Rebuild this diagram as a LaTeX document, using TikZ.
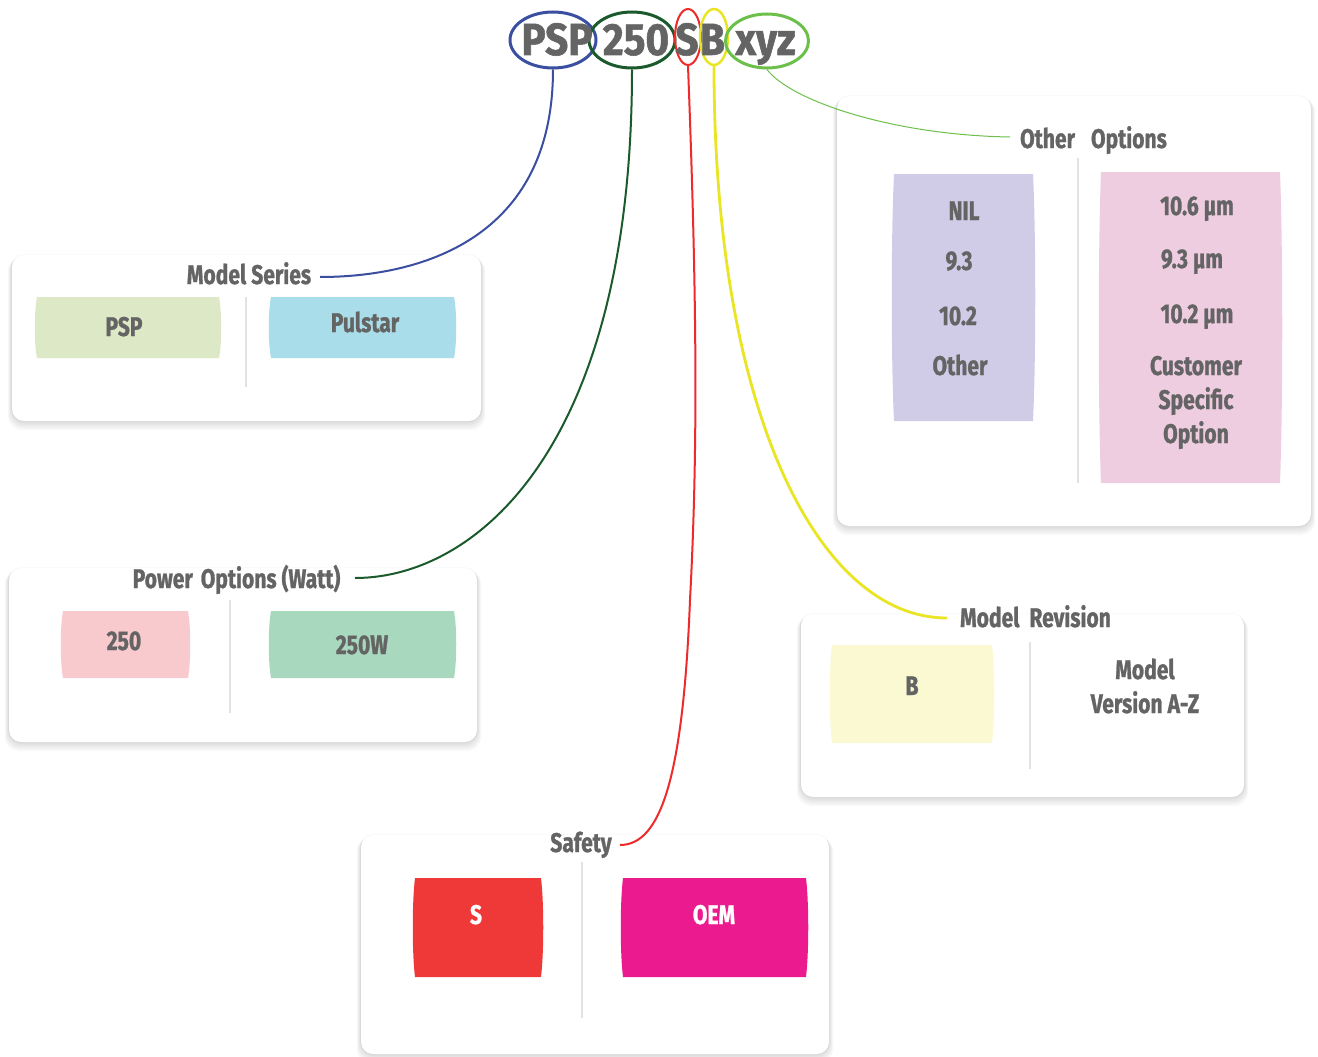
\documentclass[tikz,border=0pt]{standalone}
\usepackage{fontspec}
\setmainfont{Fira Sans}
\newfontfamily\condf[FakeStretch=0.78, BoldFeatures={FakeBold=1}]{Fira Sans}
\newfontfamily\titlef[FakeStretch=0.9, BoldFeatures={FakeBold=1.2}]{Fira Sans}
\usetikzlibrary{shapes.geometric}
\definecolor{txt}{HTML}{646464}
\definecolor{cblue}{HTML}{3A4FA0}
\definecolor{cdgreen}{HTML}{1A5A2C}
\definecolor{cred}{HTML}{EE2A2A}
\definecolor{cyellow}{HTML}{EAE524}
\definecolor{clgreen}{HTML}{6CC04A}
\definecolor{pPSP}{HTML}{DDE9C6}
\definecolor{pPul}{HTML}{A9DDE9}
\definecolor{p250}{HTML}{F8CACD}
\definecolor{p250W}{HTML}{A8D8BD}
\definecolor{pNIL}{HTML}{D0CCE7}
\definecolor{pPink}{HTML}{EFCDE1}
\definecolor{pB}{HTML}{FBF9D2}
\definecolor{pS}{HTML}{EF3838}
\definecolor{pOEM}{HTML}{EC1A8F}
\definecolor{divc}{HTML}{E2E2E2}
\newcommand\pill[5]{%
  \fill[#5] (#1,#2) -- (#3,#2)
    .. controls ({#3+3},{#2+0.25*(#4-#2)}) and ({#3+3},{#4-0.25*(#4-#2)}) .. (#3,#4)
    -- (#1,#4)
    .. controls ({#1-3},{#4-0.25*(#4-#2)}) and ({#1-3},{#2+0.25*(#4-#2)}) .. cycle;}
\newcommand\card[5]{%
  \foreach \k in {1,...,7}{
    \fill[black, opacity=0.02, rounded corners=14pt]
      ({#2-\k*0.6},{#3+\k*0.3}) rectangle ({#4+\k*0.6},{#5+\k*1.3});}
  \fill[black, opacity=0.03, rounded corners=12pt] ({#2-0.6},{#3-0.6}) rectangle ({#4+0.6},{#5+0.6});
  \node[cardbox, minimum width={#4-#2}, minimum height={#5-#3}] (#1)
    at ({(#2+#4)/2},{(#3+#5)/2}) {};}
\begin{document}
\begin{tikzpicture}[x=1pt,y=-1pt,
  lbl/.style={font=\condf\bfseries\fontsize{27}{32}\selectfont, text=txt, inner sep=1pt, anchor=base},
  wlbl/.style={lbl, text=white},
  ttl/.style={font=\titlef\bfseries\fontsize{45}{50}\selectfont, text=txt, inner sep=0pt, anchor=base},
  cardbox/.style={fill=white, rounded corners=12pt, inner sep=0pt},
  ell/.style={ellipse, draw, inner sep=0pt},
  divider/.style={draw=divc, line width=2pt},
  conn/.style={line width=2pt},
]
\useasboundingbox (0,0) rectangle (1318,1057);
\fill[white] (0,0) rectangle (1318,1057);

% cards
\card{msc}{12}{255}{481}{421}
\card{poc}{9}{568}{477}{742}
\card{ooc}{837}{96}{1311}{526}
\card{mrc}{801}{614}{1244}{797}
\card{sfc}{361}{835}{829}{1054}

% Model Series
\node[lbl] (msl) at (249,284) {Model Series};
\pill{37}{297}{219}{358}{pPSP}
\pill{271}{297}{454}{358}{pPul}
\draw[divider] (246,297) -- (246,387);
\node[lbl] (ms1) at (124,336) {PSP};
\node[lbl] (ms2) at (365,332) {Pulstar};

% Power Options
\node[lbl] (pol) at (236.5,588) {Power\hspace{3pt} Options (Watt)};
\pill{63}{611}{188}{678}{p250}
\pill{271}{611}{454}{678}{p250W}
\draw[divider] (230,600) -- (230,713);
\node[lbl] (po1) at (124,650) {250};
\node[lbl] (po2) at (362,654) {250W};

% Other Options
\node[lbl] (ool) at (1093.5,148) {Other\hspace{16pt}Options};
\pill{894}{174}{1033}{421}{pNIL}
\pill{1101}{172}{1280}{483}{pPink}
\draw[divider] (1078,158) -- (1078,483);
\node[lbl] (oa1) at (964,220) {NIL};
\node[lbl] (oa2) at (959,270) {9.3};
\node[lbl] (oa3) at (958,325) {10.2};
\node[lbl] (oa4) at (960,375) {Other};
\node[lbl] (ob1) at (1197,215) {10.6 µm};
\node[lbl] (ob2) at (1192,268) {9.3 µm};
\node[lbl] (ob3) at (1197,323) {10.2 µm};
\node[lbl] (ob4) at (1196,375) {Customer};
\node[lbl] (ob5) at (1196,409) {Specific};
\node[lbl] (ob6) at (1196,443) {Option};

% Model Revision
\node[lbl] (mrl) at (1035.5,627) {Model\hspace{10pt}Revision};
\pill{832}{645}{992}{743}{pB}
\draw[divider] (1030,642) -- (1030,769);
\node[lbl] (mr1) at (912,695) {B};
\node[lbl] (mr2) at (1145,679) {Model};
\node[lbl] (mr3) at (1145,713) {Version A-Z};

% Safety
\node[lbl] (sfl) at (581,852) {Safety};
\pill{415}{878}{541}{977}{pS}
\pill{623}{878}{806}{977}{pOEM}
\draw[divider] (582,862) -- (582,1018);
\node[wlbl] (sf1) at (476,924) {S};
\node[wlbl] (sf2) at (714,924) {OEM};

% title ellipses
\node[ell, draw=cblue, line width=3pt, minimum width=86pt, minimum height=56pt] (e1) at (553,40) {};
\node[ell, draw=cdgreen, line width=3pt, minimum width=86pt, minimum height=56pt] (e2) at (632,40) {};
\node[ell, draw=cred, line width=2pt, minimum width=26pt, minimum height=56pt] (e3) at (688,37) {};
\node[ell, draw=cyellow, line width=2.5pt, minimum width=28pt, minimum height=56pt] (e4) at (714,37) {};
\node[ell, draw=clgreen, line width=3pt, minimum width=83pt, minimum height=54pt] (e5) at (767,41) {};
\node[ttl] (t1) at (557,55) {PSP};
\node[ttl] (t2) at (636,55) {250};
\node[ttl] (t3) at (687,55) {S};
\node[ttl] (t4) at (712.5,55) {B};
\node[ttl] (t5) at (765.5,55) {xyz};

% connector end points
\coordinate (msend) at (320,277);
\coordinate (poend) at (355,578);
\coordinate (sfend) at (620,845);
\coordinate (mrend) at (947,618);
\coordinate (ooend) at (1010,137);

% connectors
\draw[conn, cblue] (e1.south) .. controls +(0,170) and +(100,0) .. (msend);
\draw[conn, cdgreen] (e2.south) .. controls +(0,380) and +(120,0) .. (poend);
\draw[conn, cred] (e3.south) .. controls (697,300) and (698,450) .. (690,600)
  .. controls (683,780) and (660,845) .. (sfend);
\draw[conn, cyellow, line width=2.8pt] (e4.south) .. controls +(0,350) and +(-127,0) .. (mrend);
\draw[clgreen, line width=1pt] (e5.south) .. controls (790,100) and (890,135) .. (ooend);
\end{tikzpicture}
\end{document}
